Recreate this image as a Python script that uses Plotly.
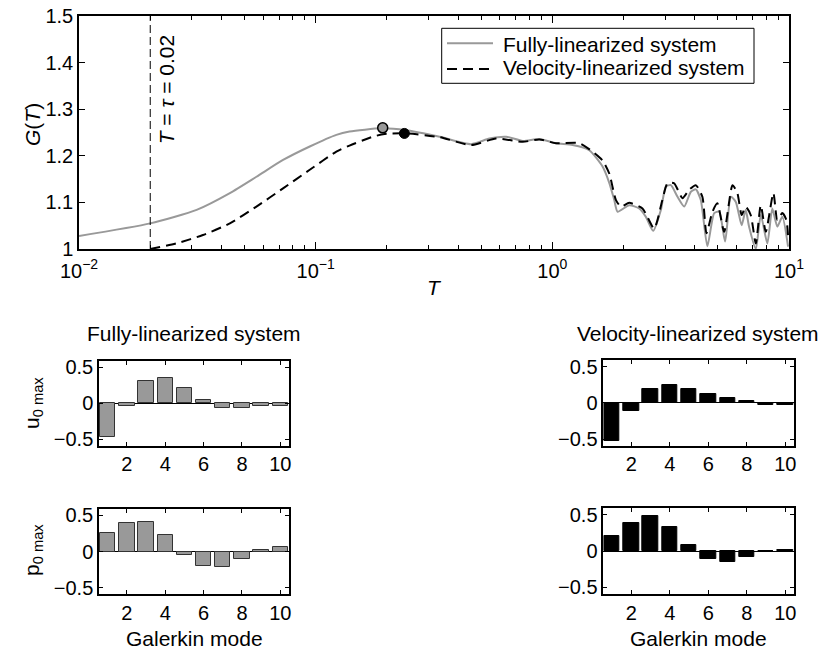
import math
import plotly.graph_objects as go

# ---------------- data ----------------
T_full = [0.0100, 0.0200, 0.0314, 0.0434, 0.0562, 0.0728, 0.0944, 0.1223, 0.139, 0.189,
          0.241, 0.334, 0.454, 0.542, 0.638, 0.750, 0.881, 1.037, 1.218, 1.432,
          1.630, 1.740, 1.827, 1.886, 2.113, 2.328, 2.485, 2.667, 2.875, 3.018,
          3.168, 3.380, 3.607, 3.849, 4.038, 4.240, 4.52, 4.83, 5.07, 5.37,
          5.68, 5.96, 6.31, 6.56, 6.78, 7.24, 7.60, 8.10, 8.50, 8.93, 9.37, 9.91]
G_full = [1.028, 1.055, 1.084, 1.120, 1.155, 1.191, 1.220, 1.245, 1.252, 1.259,
          1.255, 1.241, 1.225, 1.237, 1.241, 1.232, 1.236, 1.227, 1.223, 1.212,
          1.177, 1.142, 1.105, 1.080, 1.094, 1.087, 1.069, 1.039, 1.084, 1.134,
          1.137, 1.112, 1.091, 1.123, 1.128, 1.105, 1.006, 1.077, 1.080, 1.016,
          1.112, 1.101, 1.051, 1.084, 1.048, 1.000, 1.073, 1.012, 1.087, 1.048, 1.069, 1.005]

T_vel = [0.0200, 0.0258, 0.0334, 0.0434, 0.0562, 0.0728, 0.0944, 0.1223, 0.139, 0.1746,
         0.1955, 0.241, 0.334, 0.454, 0.578, 0.750, 0.881, 1.037, 1.300, 1.479,
         1.630, 1.740, 1.857, 1.950, 2.113, 2.404, 2.692, 2.917, 3.066, 3.272,
         3.546, 3.786, 4.038, 4.305, 4.48, 4.75, 4.98, 5.32, 5.77, 6.05,
         6.31, 6.56, 6.89, 7.24, 7.60, 7.98, 8.59, 8.93, 9.37, 9.75, 9.91]
G_vel = [1.000, 1.012, 1.030, 1.055, 1.091, 1.130, 1.170, 1.209, 1.222, 1.241,
         1.247, 1.248, 1.240, 1.223, 1.237, 1.230, 1.235, 1.227, 1.227, 1.209,
         1.190, 1.162, 1.105, 1.091, 1.099, 1.087, 1.044, 1.105, 1.141, 1.141,
         1.109, 1.127, 1.137, 1.112, 1.034, 1.080, 1.098, 1.037, 1.137, 1.120,
         1.073, 1.091, 1.073, 1.012, 1.094, 1.037, 1.120, 1.062, 1.077, 1.062, 1.027]

peak_full = (0.192, 1.260)
peak_vel = (0.237, 1.248)
TAU = 0.02

modes = [1, 2, 3, 4, 5, 6, 7, 8, 9, 10]
u_full = [-0.463, -0.037, 0.315, 0.352, 0.208, 0.042, -0.060, -0.060, -0.042, -0.032]
p_full = [0.260, 0.395, 0.405, 0.223, -0.042, -0.195, -0.209, -0.107, 0.019, 0.060]
u_vel = [-0.532, -0.111, 0.190, 0.245, 0.194, 0.116, 0.065, 0.032, -0.023, -0.032]
p_vel = [0.210, 0.386, 0.479, 0.326, 0.079, -0.112, -0.153, -0.084, -0.005, 0.014]

x_tickvals = [0.01, 0.1, 1, 10]
x_ticktext = ["10<sup>\u22122</sup>", "10<sup>\u22121</sup>", "10<sup>0</sup>", "10<sup>1</sup>"]
y_tickvals = [1, 1.1, 1.2, 1.3, 1.4, 1.5]
bar_xticks = [2, 4, 6, 8, 10]
bar_yticks = [-0.5, 0, 0.5]
bar_yticktext = ["\u22120.5", "0", "0.5"]

legend_labels = ["Fully-linearized system", "Velocity-linearized system"]

# --------------- figure ---------------
W, H = 824, 650
FONT = "Liberation Sans, Arial, Helvetica, sans-serif"
FS_TICK = 20
FS = 21
GRAY = "#999999"

def px_x(v):
    return v / W

def px_y(v):
    return 1 - v / H

def dx(a, b):
    return [a / W, b / W]

def dy(top, bot):
    return [1 - bot / H, 1 - top / H]

fig = go.Figure()

fig.add_trace(go.Scatter(x=T_full, y=G_full, mode="lines", name=legend_labels[0], showlegend=False,
                         line=dict(color=GRAY, width=2, shape="spline", smoothing=0.6),
                         xaxis="x", yaxis="y"))
fig.add_trace(go.Scatter(x=T_vel, y=G_vel, mode="lines", name=legend_labels[1], showlegend=False,
                         line=dict(color="black", width=2, dash="10px,6px", shape="spline", smoothing=0.6),
                         xaxis="x", yaxis="y"))
fig.add_trace(go.Scatter(x=[TAU, TAU], y=[1.0, 1.5], mode="lines", showlegend=False,
                         line=dict(color="black", width=1, dash="8px,4px"), xaxis="x", yaxis="y"))
fig.add_trace(go.Scatter(x=[peak_full[0]], y=[peak_full[1]], mode="markers", showlegend=False,
                         marker=dict(color=GRAY, size=10, line=dict(color="black", width=1.5)),
                         xaxis="x", yaxis="y"))
fig.add_trace(go.Scatter(x=[peak_vel[0]], y=[peak_vel[1]], mode="markers", showlegend=False,
                         marker=dict(color="black", size=10, line=dict(color="black", width=1)),
                         xaxis="x", yaxis="y"))

bar_sets = [
    (u_full, GRAY, "#333333", "x2", "y2"),
    (p_full, GRAY, "#333333", "x3", "y3"),
    (u_vel, "black", "black", "x4", "y4"),
    (p_vel, "black", "black", "x5", "y5"),
]
for vals, fc, lc, xa, ya in bar_sets:
    fig.add_trace(go.Bar(x=modes, y=vals, width=0.8, showlegend=False,
                         marker=dict(color=fc, line=dict(color=lc, width=1)),
                         xaxis=xa, yaxis=ya))

axis_common = dict(showline=True, linecolor="black", linewidth=1.5, mirror="allticks",
                   ticks="inside", tickcolor="black", tickwidth=1, showgrid=False, zeroline=False,
                   automargin=False,
                   tickfont=dict(family=FONT, size=FS_TICK, color="black"))

minor_vals = [m * 10 ** e for e in (-2, -1, 0) for m in range(2, 10)]

layout = dict(
    template="none",
    width=W, height=H, margin=dict(l=0, r=0, t=0, b=0, pad=0), autosize=False,
    paper_bgcolor="white", plot_bgcolor="white",
    font=dict(family=FONT, size=FS, color="black"),
    showlegend=False,
    bargap=0,
    xaxis=dict(axis_common, type="log", range=[-2, 1], domain=dx(79, 789), anchor="y",
               tickmode="array", tickvals=x_tickvals, ticktext=x_ticktext, ticklen=7,
               ticklabelstandoff=3,
               minor=dict(tickmode="array", tickvals=minor_vals, ticks="inside", ticklen=4,
                          tickcolor="black", showgrid=False)),
    yaxis=dict(axis_common, range=[1, 1.5], domain=dy(16, 249), anchor="x",
               tickmode="array", tickvals=y_tickvals, ticklen=6),
)

bar_axes = [
    ("xaxis2", "yaxis2", dx(99, 289), dy(361, 445.7)),
    ("xaxis3", "yaxis3", dx(99, 289), dy(509, 594)),
    ("xaxis4", "yaxis4", dx(603.3, 794), dy(360, 445.7)),
    ("xaxis5", "yaxis5", dx(603.3, 794), dy(508, 594)),
]
for i, (xk, yk, xd, yd) in enumerate(bar_axes):
    n = i + 2
    layout[xk] = dict(axis_common, range=[0.55, 10.45], domain=xd, anchor="y%d" % n,
                      tickmode="array", tickvals=bar_xticks, ticklen=4)
    layout[yk] = dict(axis_common, range=[-0.59, 0.59], domain=yd, anchor="x%d" % n,
                      tickmode="array", tickvals=bar_yticks, ticktext=bar_yticktext, ticklen=4,
                      zeroline=True, zerolinecolor="black", zerolinewidth=1)

fig.update_layout(**layout)

# ---- legend (drawn manually to match the boxed MATLAB legend) ----
shapes = [
    dict(type="rect", xref="paper", yref="paper", x0=px_x(441.7), x1=px_x(754),
         y0=px_y(83.3), y1=px_y(28.3), line=dict(color="black", width=1),
         fillcolor="white", layer="above"),
    dict(type="line", xref="paper", yref="paper", x0=px_x(447), x1=px_x(493),
         y0=px_y(43.3), y1=px_y(43.3), line=dict(color=GRAY, width=2), layer="above"),
    dict(type="line", xref="paper", yref="paper", x0=px_x(447), x1=px_x(493),
         y0=px_y(69), y1=px_y(69), line=dict(color="black", width=2, dash="10px,6px"),
         layer="above"),
]
fig.update_layout(shapes=shapes)

ann = []
def add_text(text, x, y, angle=0, xref="paper", yref="paper", size=FS, **kw):
    a = dict(text=text, x=x, y=y, xref=xref, yref=yref, showarrow=False, textangle=angle,
             font=dict(family=FONT, size=size, color="black"), xanchor="center", yanchor="middle")
    a.update(kw)
    ann.append(a)

add_text(legend_labels[0], px_x(501), px_y(44), xanchor="left")
add_text(legend_labels[1], px_x(501), px_y(68), xanchor="left")
add_text("<i>G</i>(<i>T</i>)", px_x(33), px_y(125), angle=-90)
add_text("<i>T</i>", px_x(434), px_y(287))
add_text("<i>T</i> = <i>\u03c4</i> = 0.02", math.log10(TAU), 1.341, angle=-90, xref="x", yref="y",
         xshift=16)
add_text("Fully-linearized system", px_x(194), px_y(333))
add_text("Velocity-linearized system", px_x(698), px_y(333))
add_text("Galerkin mode", px_x(194), px_y(638))
add_text("Galerkin mode", px_x(698), px_y(638))
add_text("u<sub>0 max</sub>", px_x(33), px_y(403), angle=-90)
add_text("p<sub>0 max</sub>", px_x(33), px_y(550), angle=-90)

fig.update_layout(annotations=ann)
fig.write_html("out.html")
